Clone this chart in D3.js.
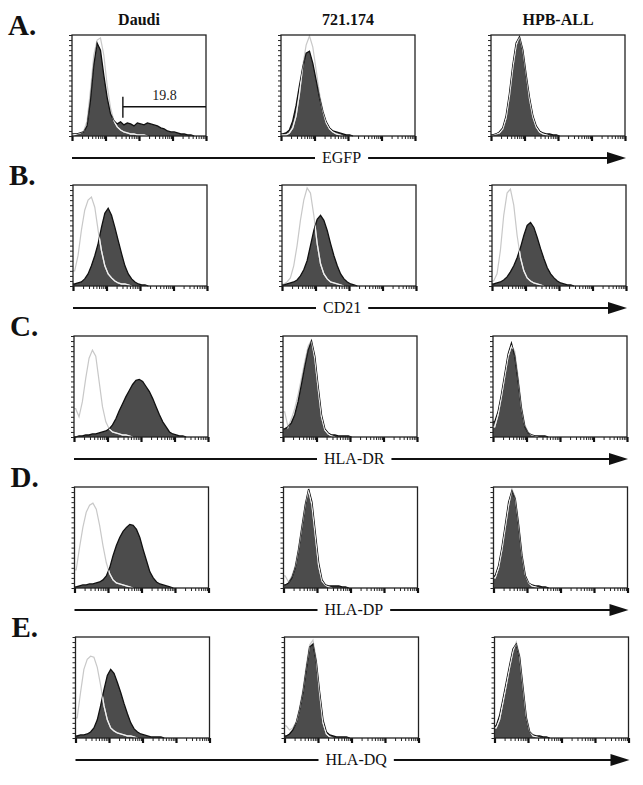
<!DOCTYPE html>
<html><head><meta charset="utf-8">
<script src="https://cdn.jsdelivr.net/npm/d3@7"></script>
<style>body{margin:0;background:#fff}svg{display:block}</style>
</head><body><svg id="c" width="643" height="785"></svg>
<script>
// ---- categories ----
const cellLines = ["Daudi", "721.174", "HPB-ALL"];
const markers = ["EGFP", "CD21", "HLA-DR", "HLA-DP", "HLA-DQ"];
const rowLetters = ["A.", "B.", "C.", "D.", "E."];
const decadeTicks = [1, 10, 100, 1000, 10000];

// ---- histogram counts (% of panel height), bins of 0.1 decade starting at 10^0 ----
// Row A: EGFP
const daudiEGFP      = [2,2,3,4,10,35,70,92,85,60,38,22,15,12,14,11,13,12,10,13,12,11,13,12,11,10,8,7,5,4,4,3,2,2,1,1];
const daudiEGFPCtrl  = [1,2,3,5,15,45,80,95,97,80,50,28,15,9,6,4,3,2,2,1,1,1];
const lclEGFP        = [2,3,6,15,30,50,68,82,84,72,55,38,24,14,8,5,4,3,2,1,1];
const lclEGFPCtrl    = [1,1,3,8,20,42,70,90,99,88,65,42,25,13,7,4,2,1];
const hpbEGFP        = [1,2,4,8,20,42,70,92,98,85,60,38,20,10,5,3,2,2,1,1];
const hpbEGFPCtrl    = [1,2,3,7,18,40,68,90,99,86,62,37,19,9,4,2,1];
// Row B: CD21
const daudiCD21      = [2,3,4,7,12,20,30,42,58,72,77,70,58,45,32,20,12,7,4,2,1,1];
const daudiCD21Ctrl  = [15,30,55,75,85,88,78,55,35,20,12,8,5,3,2,2,1];
const lclCD21        = [1,2,3,4,6,10,16,25,40,55,66,70,65,55,42,30,20,12,7,4,2,1];
const lclCD21Ctrl    = [2,4,8,20,40,65,85,97,92,70,42,22,12,7,4,3,2,1];
const hpbCD21        = [2,3,4,6,9,14,20,28,38,50,60,63,58,48,37,27,18,12,8,5,3,2,1,1];
const hpbCD21Ctrl    = [5,12,35,70,92,96,80,50,28,15,8,5,3,2,1];
// Row C: HLA-DR
const daudiDR        = [0,1,1,2,2,3,3,4,5,6,8,12,18,26,33,40,46,52,56,57,55,50,45,38,30,22,15,10,5,3,2,1,1];
const daudiDRCtrl    = [28,20,35,58,78,86,80,55,30,15,8,5,4,3,2,2,1];
const lclDR          = [8,10,14,22,35,52,70,86,95,80,50,22,8,4,2,2,1,1,1,1];
const lclDRCtrl      = [25,10,18,28,42,58,75,90,96,78,48,20,7,3,1];
const hpbDR          = [15,25,42,62,82,93,80,55,28,10,4,2,1,1,1,1];
const hpbDRCtrl      = [10,22,40,60,80,90,85,60,30,12,5,2,1];
// Row D: HLA-DP
const daudiDP        = [1,2,3,3,4,4,5,6,8,12,20,32,42,50,56,60,63,62,58,50,38,27,16,10,6,4,3,2,1];
const daudiDPCtrl    = [18,40,60,75,82,84,78,62,42,25,14,8,5,4,3,2,1];
const lclDP          = [3,5,10,20,38,60,82,98,85,55,25,8,3,2,2,2,2,1,1];
const lclDPCtrl      = [12,6,12,22,40,62,84,97,82,52,22,7,3,1];
const hpbDP          = [12,22,40,62,85,96,88,62,32,12,5,3,2,2,1,1];
const hpbDPCtrl      = [10,20,38,60,82,98,90,65,34,13,5,2,1];
// Row E: HLA-DQ
const daudiDQ        = [2,3,3,4,6,10,18,32,48,62,68,64,55,45,34,24,15,9,6,4,3,2,1,1,1,1];
const daudiDQCtrl    = [20,45,68,78,81,80,70,52,32,18,10,7,5,4,3,2,2,1];
const lclDQ          = [2,4,8,15,28,45,68,90,93,75,45,18,6,3,2,1,1,1,1];
const lclDQCtrl      = [12,8,10,16,30,48,72,92,97,78,44,15,4,1];
const hpbDQ          = [12,22,38,55,72,88,93,80,50,20,6,3,2,2,1,1];
const hpbDQCtrl      = [10,18,35,52,70,86,95,82,52,22,7,2,1];

// gate marker on Daudi / EGFP
const gateLabel = "19.8";
const gateFrom = 33;      // channel (log scale)
const gateTo = 10000;
const gateLevel = 29;     // % height

// ---- build table ----
const stained = [
  [daudiEGFP, lclEGFP, hpbEGFP],
  [daudiCD21, lclCD21, hpbCD21],
  [daudiDR, lclDR, hpbDR],
  [daudiDP, lclDP, hpbDP],
  [daudiDQ, lclDQ, hpbDQ]
];
const control = [
  [daudiEGFPCtrl, lclEGFPCtrl, hpbEGFPCtrl],
  [daudiCD21Ctrl, lclCD21Ctrl, hpbCD21Ctrl],
  [daudiDRCtrl, lclDRCtrl, hpbDRCtrl],
  [daudiDPCtrl, lclDPCtrl, hpbDPCtrl],
  [daudiDQCtrl, lclDQCtrl, hpbDQCtrl]
];

// ---- layout ----
const W = 134, H = 101;
const colX = [72, 281, 491];
const rowY = [35, 185, 336, 487, 637];
const rowShift = [0, 1, 2, 2.5, 3.5];
const serif = "'Liberation Serif','Times New Roman',serif";

const svg = d3.select("#c");
const x = d3.scaleLog().domain([1, 10000]).range([0, W]);
const y = d3.scaleLinear().domain([0, 100]).range([H, 0]);

function toPoints(arr) {
  const pts = [[1, arr[0]]];
  arr.forEach((v, i) => pts.push([Math.pow(10, (i + 0.5) / 10), v]));
  pts.push([Math.pow(10, (arr.length + 0.5) / 10), 0]);
  return pts;
}
const area = d3.area().x(d => x(d[0])).y0(H).y1(d => y(d[1])).curve(d3.curveLinear);
const line = d3.line().x(d => x(d[0])).y(d => y(d[1])).curve(d3.curveLinear);

// column titles
cellLines.forEach((name, c) => {
  svg.append("text").attr("x", colX[c] + W / 2).attr("y", 25)
    .attr("text-anchor", "middle").attr("font-family", serif)
    .attr("font-weight", "bold").attr("font-size", 16).attr("fill", "#111").text(name);
});

rowLetters.forEach((L, r) => {
  svg.append("text").attr("x", 8 + rowShift[r]).attr("y", rowY[r])
    .attr("font-family", serif).attr("font-weight", "bold").attr("font-size", 29)
    .attr("fill", "#111").text(L);
});

let clipId = 0;
for (let r = 0; r < 5; r++) {
  for (let c = 0; c < 3; c++) {
    const g = svg.append("g").attr("transform", `translate(${colX[c] + rowShift[r]},${rowY[r]})`);
    const sPts = toPoints(stained[r][c]);
    const cPts = toPoints(control[r][c]);
    const id = "clip" + (clipId++);
    g.append("clipPath").attr("id", id).append("path").attr("d", area(sPts));

    g.append("path").attr("d", area(sPts)).attr("fill", "#4c4c4c");
    g.append("path").attr("d", line(cPts)).attr("fill", "none")
      .attr("stroke", "#c8c8c8").attr("stroke-width", 1.2);
    g.append("path").attr("d", line(sPts)).attr("fill", "none")
      .attr("stroke", "#111").attr("stroke-width", 1.3);
    g.append("path").attr("d", line(cPts)).attr("fill", "none")
      .attr("clip-path", `url(#${id})`)
      .attr("stroke", "#f0f0f0").attr("stroke-width", 1.3);

    // bottom axis: minor log ticks
    const minor = g.append("g").attr("transform", `translate(0,${H})`)
      .call(d3.axisBottom(x).tickValues(x.ticks()).tickSize(3).tickFormat(""));
    minor.select(".domain").remove();
    minor.selectAll("line").attr("stroke", "#222").attr("stroke-width", 1);
    const major = g.append("g").attr("transform", `translate(0,${H})`)
      .call(d3.axisBottom(x).tickValues(decadeTicks).tickSize(5).tickFormat(""));
    major.select(".domain").remove();
    major.selectAll("line").attr("stroke", "#111").attr("stroke-width", 2.2);

    // left axis ticks
    const left = g.append("g")
      .call(d3.axisLeft(y).tickValues(d3.range(0, 101, 5)).tickSize(3).tickFormat(""));
    left.select(".domain").remove();
    left.selectAll("line").attr("stroke", "#222").attr("stroke-width", 1);

    g.append("rect").attr("width", W).attr("height", H)
      .attr("fill", "none").attr("stroke", "#222").attr("stroke-width", 1.3);

    if (r === 0 && c === 0) {
      const gx = x(gateFrom), gy = y(gateLevel);
      g.append("line").attr("x1", gx).attr("x2", gx).attr("y1", gy - 10).attr("y2", gy + 11)
        .attr("stroke", "#111").attr("stroke-width", 1.4);
      g.append("line").attr("x1", gx).attr("x2", x(gateTo)).attr("y1", gy).attr("y2", gy)
        .attr("stroke", "#111").attr("stroke-width", 1.4);
      g.append("text").attr("x", (gx + x(gateTo)) / 2).attr("y", gy - 7)
        .attr("text-anchor", "middle").attr("font-family", serif).attr("font-size", 14)
        .attr("fill", "#222").text(gateLabel);
    }
  }
  // parameter arrow
  const ay = rowY[r] + 123;
  const sh = rowShift[r];
  const lbl = svg.append("text").attr("x", 322 + sh).attr("y", ay + 5)
    .attr("font-family", serif).attr("font-size", 16).attr("fill", "#111").text(markers[r]);
  const lw = lbl.node().getComputedTextLength();
  svg.append("line").attr("x1", 72 + sh).attr("x2", 315 + sh).attr("y1", ay).attr("y2", ay)
    .attr("stroke", "#111").attr("stroke-width", 2);
  svg.append("line").attr("x1", 322 + sh + lw + 7).attr("x2", 610 + sh).attr("y1", ay).attr("y2", ay)
    .attr("stroke", "#111").attr("stroke-width", 2);
  svg.append("path")
    .attr("d", `M${626 + sh},${ay} L${607 + sh},${ay - 6} L${607 + sh},${ay + 6} Z`)
    .attr("fill", "#111");
}
</script>
</body></html>
